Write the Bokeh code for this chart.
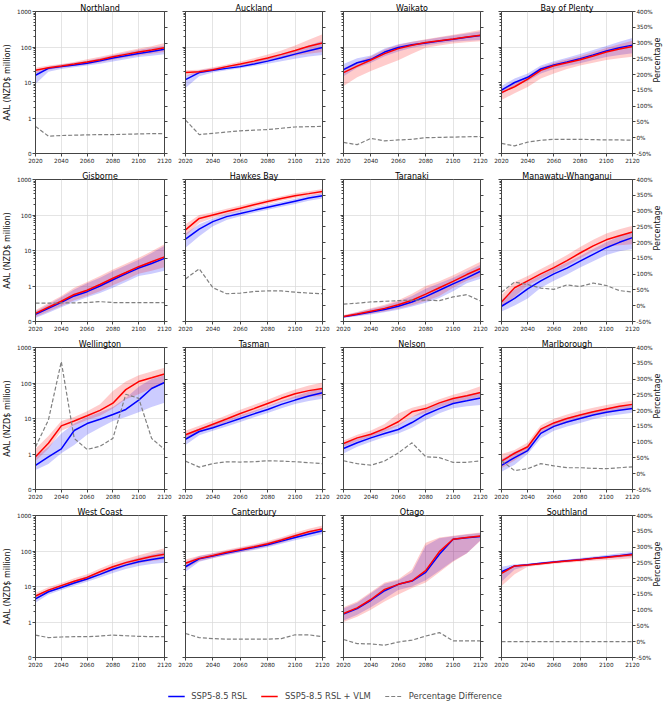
import math
from bokeh.plotting import figure
from bokeh.models import (Range1d, LinearAxis, FixedTicker, PrintfTickFormatter,
                          Legend, LegendItem)
from bokeh.layouts import column, row
from bokeh.embed import file_html
from bokeh.resources import INLINE

YEARS = [2020, 2030, 2040, 2050, 2060, 2070, 2080, 2090, 2100, 2110, 2120]
X_TICKS = [2020, 2040, 2060, 2080, 2100, 2120]
Y_TICKS = [0, 1, 10, 100, 1000]
PCT_TICKS = [-50, 0, 50, 100, 150, 200, 250, 300, 350, 400]

REGIONS = ["Northland", "Auckland", "Waikato", "Bay of Plenty",
           "Gisborne", "Hawkes Bay", "Taranaki", "Manawatu-Whanganui",
           "Wellington", "Tasman", "Nelson", "Marlborough",
           "West Coast", "Canterbury", "Otago", "Southland"]

# ---- AAL (NZD$ million): median lines and uncertainty bands, % difference ----
NORTHLAND_RSL = [16, 25, 28, 31, 35, 41, 49, 57, 66, 75, 86]
NORTHLAND_RSL_LO = [9, 20, 24, 27, 30, 34, 39, 45, 52, 57, 62]
NORTHLAND_RSL_HI = [20, 28, 32, 36, 41, 49, 59, 70, 83, 96, 110]
NORTHLAND_VLM = [22, 26, 29, 33, 38, 44, 53, 62, 72, 82, 95]
NORTHLAND_VLM_LO = [18, 23, 26, 29, 32, 37, 44, 51, 58, 65, 72]
NORTHLAND_VLM_HI = [26, 30, 33, 38, 45, 53, 64, 76, 90, 105, 130]
NORTHLAND_PCT = [36, 5, 7, 8, 9, 10, 10, 11, 12, 13, 13]

AUCKLAND_RSL = [12, 19, 22, 25, 28, 33, 40, 50, 63, 78, 97]
AUCKLAND_RSL_LO = [7, 15, 19, 22, 25, 29, 34, 40, 47, 54, 60]
AUCKLAND_RSL_HI = [15, 22, 25, 29, 33, 39, 48, 62, 80, 110, 150]
AUCKLAND_VLM = [19, 20, 23, 28, 33, 40, 49, 62, 80, 105, 130]
AUCKLAND_VLM_LO = [15, 18, 21, 25, 29, 34, 40, 48, 57, 65, 72]
AUCKLAND_VLM_HI = [22, 23, 27, 32, 39, 48, 61, 80, 110, 160, 230]
AUCKLAND_PCT = [56, 10, 14, 18, 22, 24, 26, 30, 34, 35, 36]

WAIKATO_RSL = [23, 36, 45, 72, 97, 115, 130, 148, 165, 188, 212]
WAIKATO_RSL_LO = [15, 26, 36, 55, 75, 95, 110, 125, 140, 150, 158]
WAIKATO_RSL_HI = [33, 48, 58, 90, 120, 140, 160, 185, 210, 240, 275]
WAIKATO_VLM = [19, 29, 43, 65, 90, 112, 133, 150, 168, 190, 215]
WAIKATO_VLM_LO = [8, 14, 21, 30, 42, 65, 95, 110, 125, 135, 145]
WAIKATO_VLM_HI = [25, 38, 55, 85, 115, 140, 165, 190, 220, 255, 300]
WAIKATO_PCT = [-15, -22, -2, -10, -7, -5, 0, 1, 2, 3, 4]

BAYOFPLENTY_RSL = [6.1, 10, 14, 24, 31, 38, 47, 60, 77, 95, 113]
BAYOFPLENTY_RSL_LO = [4.7, 8, 11, 18, 24, 29, 35, 43, 52, 60, 67]
BAYOFPLENTY_RSL_HI = [8, 13, 18, 30, 40, 50, 63, 82, 107, 140, 178]
BAYOFPLENTY_VLM = [5.2, 7.6, 12.4, 22, 29.5, 36, 44, 56, 72, 88, 103]
BAYOFPLENTY_VLM_LO = [3.2, 5, 7.5, 13, 18, 24, 30, 36, 43, 48, 53]
BAYOFPLENTY_VLM_HI = [6.5, 10, 15, 27, 36, 45, 56, 72, 93, 120, 150]
BAYOFPLENTY_PCT = [-18, -26, -14, -8, -5, -5, -5, -6, -7, -7, -8]

GISBORNE_RSL = [0.2, 0.37, 0.54, 0.72, 0.84, 1.0, 1.5, 2.2, 3.2, 4.3, 6.0]
GISBORNE_RSL_LO = [0.1, 0.25, 0.4, 0.55, 0.68, 0.8, 0.95, 1.3, 1.9, 2.2, 2.7]
GISBORNE_RSL_HI = [0.28, 0.48, 0.68, 0.9, 1.2, 1.7, 2.6, 3.8, 5.5, 8.5, 13.5]
GISBORNE_VLM = [0.23, 0.40, 0.57, 0.76, 0.88, 1.1, 1.65, 2.4, 3.5, 4.8, 6.6]
GISBORNE_VLM_LO = [0.13, 0.28, 0.44, 0.6, 0.72, 0.85, 1.05, 1.5, 2.2, 2.7, 3.4]
GISBORNE_VLM_HI = [0.32, 0.52, 0.72, 0.95, 1.3, 1.9, 2.9, 4.2, 6.2, 9.5, 15]
GISBORNE_PCT = [8, 8, 9, 9, 10, 13, 10, 10, 10, 10, 10]

HAWKESBAY_RSL = [21, 40, 65, 90, 110, 135, 165, 200, 245, 300, 350]
HAWKESBAY_RSL_LO = [12, 25, 48, 72, 92, 115, 140, 170, 205, 250, 290]
HAWKESBAY_RSL_HI = [30, 55, 80, 110, 135, 160, 195, 235, 285, 350, 410]
HAWKESBAY_VLM = [38, 80, 100, 125, 155, 195, 240, 290, 350, 400, 460]
HAWKESBAY_VLM_LO = [25, 60, 82, 105, 130, 165, 205, 250, 300, 345, 390]
HAWKESBAY_VLM_HI = [55, 100, 120, 150, 185, 230, 280, 340, 410, 470, 540]
HAWKESBAY_PCT = [85, 117, 57, 38, 40, 45, 47, 47, 43, 40, 38]

TARANAKI_RSL = [0.13, 0.2, 0.27, 0.34, 0.43, 0.55, 0.7, 0.88, 1.15, 1.7, 2.6]
TARANAKI_RSL_LO = [0.1, 0.15, 0.2, 0.26, 0.33, 0.42, 0.53, 0.66, 0.85, 1.2, 1.6]
TARANAKI_RSL_HI = [0.17, 0.26, 0.35, 0.44, 0.56, 0.72, 0.92, 1.2, 1.7, 2.6, 4.0]
TARANAKI_VLM = [0.14, 0.21, 0.29, 0.37, 0.47, 0.6, 0.77, 0.95, 1.35, 2.1, 3.1]
TARANAKI_VLM_LO = [0.11, 0.16, 0.22, 0.28, 0.36, 0.46, 0.58, 0.72, 0.95, 1.4, 1.9]
TARANAKI_VLM_HI = [0.18, 0.27, 0.37, 0.47, 0.6, 0.78, 1.0, 1.35, 2.0, 3.1, 4.8]
TARANAKI_PCT = [5, 8, 12, 14, 16, 18, 18, 16, 28, 35, 15]

MANAWATU_RSL = [0.43, 0.65, 0.92, 1.4, 2.2, 3.2, 5.0, 7.8, 12, 17, 23]
MANAWATU_RSL_LO = [0.28, 0.45, 0.65, 0.95, 1.4, 2.1, 3.3, 5, 7.5, 9.5, 11]
MANAWATU_RSL_HI = [0.6, 0.9, 1.3, 2.0, 3.1, 4.6, 7, 11, 17, 25, 35]
MANAWATU_VLM = [0.55, 0.95, 1.4, 2.2, 3.3, 5.2, 8.5, 13.5, 20, 26, 33]
MANAWATU_VLM_LO = [0.4, 0.7, 1.05, 1.6, 2.4, 3.7, 6, 9.5, 13, 14, 15]
MANAWATU_VLM_HI = [0.75, 1.3, 1.9, 3.0, 4.7, 7.5, 12.5, 20, 30, 40, 50]
MANAWATU_PCT = [43, 75, 67, 56, 52, 66, 61, 72, 64, 48, 43]

WELLINGTON_RSL = [0.68, 0.92, 1.4, 4.6, 7.2, 9.5, 13, 18, 33, 70, 103]
WELLINGTON_RSL_LO = [0.55, 0.72, 1.05, 1.8, 3.5, 5.5, 8.5, 11, 15, 21, 28]
WELLINGTON_RSL_HI = [0.92, 1.6, 3.8, 7.2, 11, 15, 21, 38, 78, 130, 165]
WELLINGTON_VLM = [0.92, 2.0, 6.2, 8.5, 12, 17, 27, 65, 110, 140, 180]
WELLINGTON_VLM_LO = [0.8, 1.4, 4.5, 6.5, 9, 12, 19, 35, 48, 70, 98]
WELLINGTON_VLM_HI = [1.4, 3.2, 8.5, 11, 16, 25, 60, 110, 165, 210, 270]
WELLINGTON_PCT = [85, 170, 355, 112, 77, 87, 112, 252, 239, 112, 77]

TASMAN_RSL = [2.6, 4.3, 5.5, 7.4, 10, 13.5, 18, 25, 33, 43, 53]
TASMAN_RSL_LO = [1.8, 3.4, 4.5, 6.0, 8.0, 10.8, 14.3, 19.5, 25.5, 31, 36]
TASMAN_RSL_HI = [3.6, 5.3, 6.8, 9.0, 12.3, 16.5, 22, 31, 42, 57, 75]
TASMAN_VLM = [3.5, 4.9, 6.9, 9.7, 13.8, 19, 26.5, 37, 50, 61, 70]
TASMAN_VLM_LO = [2.8, 4.0, 5.6, 7.8, 11, 15, 21, 29, 38, 41, 43]
TASMAN_VLM_HI = [4.5, 6.2, 8.7, 12.3, 17.5, 24.5, 34, 48, 66, 85, 103]
TASMAN_PCT = [40, 21, 32, 38, 37, 38, 41, 40, 38, 35, 32]

NELSON_RSL = [1.43, 2.07, 2.85, 3.8, 4.9, 7.7, 13, 19, 26.5, 31.5, 38]
NELSON_RSL_LO = [1.03, 1.6, 2.2, 3.0, 3.8, 5.5, 9, 14, 19.5, 22, 24]
NELSON_RSL_HI = [2.0, 2.7, 3.7, 5.0, 6.8, 11, 18, 26, 36, 45, 56]
NELSON_VLM = [1.98, 2.85, 3.6, 5.2, 8.1, 15.4, 19, 27.6, 36.5, 43.6, 54]
NELSON_VLM_LO = [1.6, 2.3, 3.0, 4.2, 6.2, 11, 14.5, 21, 28, 34, 41]
NELSON_VLM_HI = [2.4, 3.5, 4.6, 7.0, 13.8, 20, 25, 35, 47, 60, 81]
NELSON_PCT = [41, 32, 27, 40, 66, 98, 54, 51, 36, 36, 41]

MARLBOROUGH_RSL = [0.68, 0.9, 1.25, 3.8, 6.0, 8.0, 10, 12.5, 15, 17, 19]
MARLBOROUGH_RSL_LO = [0.5, 0.7, 1.0, 2.8, 4.5, 6.0, 7.5, 9.5, 11.5, 13, 14.5]
MARLBOROUGH_RSL_HI = [0.85, 1.15, 1.6, 5.0, 8.0, 10.5, 13, 16, 19.5, 22, 25]
MARLBOROUGH_VLM = [0.8, 1.05, 1.6, 5.0, 7.5, 10, 12.5, 15.5, 18.5, 22, 25]
MARLBOROUGH_VLM_LO = [0.6, 0.82, 1.2, 3.7, 5.7, 7.6, 9.5, 12, 14, 17, 19]
MARLBOROUGH_VLM_HI = [1.0, 1.3, 2.1, 6.5, 9.8, 13, 16.5, 20, 24, 28, 32]
MARLBOROUGH_PCT = [41, 10, 16, 32, 25, 19, 19, 17, 16, 19, 22]

WESTCOAST_RSL = [4.5, 7.1, 9.4, 12.5, 16.3, 22, 30.5, 40, 50, 58, 66]
WESTCOAST_RSL_LO = [3.5, 6.0, 8.0, 10.5, 13.5, 18, 24, 31, 38, 43, 47]
WESTCOAST_RSL_HI = [5.6, 8.4, 11, 14.8, 19.5, 27, 38, 51, 65, 80, 95]
WESTCOAST_VLM = [5.4, 7.9, 10.6, 14, 18, 26, 36, 47, 58, 70, 81]
WESTCOAST_VLM_LO = [4.3, 6.7, 9.0, 11.8, 15, 21, 28, 37, 45, 52, 58]
WESTCOAST_VLM_HI = [6.6, 9.5, 12.6, 17, 22, 32, 45, 60, 76, 95, 120]
WESTCOAST_PCT = [21, 13, 15, 16, 16, 18, 21, 19, 17, 16, 16]

CANTERBURY_RSL = [36, 60, 72, 88, 105, 125, 150, 190, 240, 300, 370]
CANTERBURY_RSL_LO = [26, 50, 62, 76, 90, 107, 128, 160, 200, 245, 300]
CANTERBURY_RSL_HI = [48, 72, 85, 102, 122, 146, 176, 225, 290, 365, 450]
CANTERBURY_VLM = [45, 62, 75, 92, 110, 132, 160, 205, 270, 350, 420]
CANTERBURY_VLM_LO = [32, 52, 64, 78, 94, 112, 135, 172, 225, 290, 345]
CANTERBURY_VLM_HI = [58, 74, 88, 108, 130, 155, 190, 245, 325, 425, 520]
CANTERBURY_PCT = [26, 13, 10, 8, 8, 8, 8, 10, 22, 22, 16]

OTAGO_RSL = [1.67, 2.4, 4.1, 7.6, 11.5, 14.2, 25, 81, 214, 235, 256]
OTAGO_RSL_LO = [1.1, 1.6, 2.6, 4.5, 8, 10, 15, 28, 52, 87, 200]
OTAGO_RSL_HI = [2.4, 3.5, 6.5, 12, 15, 25, 140, 230, 260, 290, 320]
OTAGO_VLM = [1.74, 2.5, 4.3, 8.3, 11.5, 14.5, 28, 96, 214, 240, 265]
OTAGO_VLM_LO = [1.0, 1.4, 2.2, 3.8, 6, 9, 13, 25, 50, 85, 195]
OTAGO_VLM_HI = [2.6, 3.8, 7, 13, 16, 30, 170, 240, 270, 300, 330]
OTAGO_PCT = [7, -6, -7, -11, -1, 5, 18, 29, 3, 3, 3]

SOUTHLAND_RSL = [26, 38, 41, 45, 49, 53, 57, 62, 68, 74, 82]
SOUTHLAND_RSL_LO = [13.6, 30, 38, 42, 46, 50, 54, 58, 62, 66, 70]
SOUTHLAND_RSL_HI = [36, 42, 44, 48, 53, 58, 63, 70, 77, 86, 96]
SOUTHLAND_VLM = [23.5, 38, 40.5, 44, 48, 52, 56, 61, 66, 72, 78]
SOUTHLAND_VLM_LO = [10.3, 22, 36, 40, 44, 47, 50, 53, 56, 59, 62]
SOUTHLAND_VLM_HI = [26, 40, 43, 47, 51, 56, 61, 66, 72, 79, 86]
SOUTHLAND_PCT = [0, 0, 0, 0, 0, 0, 0, 0, 0, 0, 0]

DATA = {
    "Northland": (NORTHLAND_RSL, NORTHLAND_RSL_LO, NORTHLAND_RSL_HI, NORTHLAND_VLM, NORTHLAND_VLM_LO, NORTHLAND_VLM_HI, NORTHLAND_PCT),
    "Auckland": (AUCKLAND_RSL, AUCKLAND_RSL_LO, AUCKLAND_RSL_HI, AUCKLAND_VLM, AUCKLAND_VLM_LO, AUCKLAND_VLM_HI, AUCKLAND_PCT),
    "Waikato": (WAIKATO_RSL, WAIKATO_RSL_LO, WAIKATO_RSL_HI, WAIKATO_VLM, WAIKATO_VLM_LO, WAIKATO_VLM_HI, WAIKATO_PCT),
    "Bay of Plenty": (BAYOFPLENTY_RSL, BAYOFPLENTY_RSL_LO, BAYOFPLENTY_RSL_HI, BAYOFPLENTY_VLM, BAYOFPLENTY_VLM_LO, BAYOFPLENTY_VLM_HI, BAYOFPLENTY_PCT),
    "Gisborne": (GISBORNE_RSL, GISBORNE_RSL_LO, GISBORNE_RSL_HI, GISBORNE_VLM, GISBORNE_VLM_LO, GISBORNE_VLM_HI, GISBORNE_PCT),
    "Hawkes Bay": (HAWKESBAY_RSL, HAWKESBAY_RSL_LO, HAWKESBAY_RSL_HI, HAWKESBAY_VLM, HAWKESBAY_VLM_LO, HAWKESBAY_VLM_HI, HAWKESBAY_PCT),
    "Taranaki": (TARANAKI_RSL, TARANAKI_RSL_LO, TARANAKI_RSL_HI, TARANAKI_VLM, TARANAKI_VLM_LO, TARANAKI_VLM_HI, TARANAKI_PCT),
    "Manawatu-Whanganui": (MANAWATU_RSL, MANAWATU_RSL_LO, MANAWATU_RSL_HI, MANAWATU_VLM, MANAWATU_VLM_LO, MANAWATU_VLM_HI, MANAWATU_PCT),
    "Wellington": (WELLINGTON_RSL, WELLINGTON_RSL_LO, WELLINGTON_RSL_HI, WELLINGTON_VLM, WELLINGTON_VLM_LO, WELLINGTON_VLM_HI, WELLINGTON_PCT),
    "Tasman": (TASMAN_RSL, TASMAN_RSL_LO, TASMAN_RSL_HI, TASMAN_VLM, TASMAN_VLM_LO, TASMAN_VLM_HI, TASMAN_PCT),
    "Nelson": (NELSON_RSL, NELSON_RSL_LO, NELSON_RSL_HI, NELSON_VLM, NELSON_VLM_LO, NELSON_VLM_HI, NELSON_PCT),
    "Marlborough": (MARLBOROUGH_RSL, MARLBOROUGH_RSL_LO, MARLBOROUGH_RSL_HI, MARLBOROUGH_VLM, MARLBOROUGH_VLM_LO, MARLBOROUGH_VLM_HI, MARLBOROUGH_PCT),
    "West Coast": (WESTCOAST_RSL, WESTCOAST_RSL_LO, WESTCOAST_RSL_HI, WESTCOAST_VLM, WESTCOAST_VLM_LO, WESTCOAST_VLM_HI, WESTCOAST_PCT),
    "Canterbury": (CANTERBURY_RSL, CANTERBURY_RSL_LO, CANTERBURY_RSL_HI, CANTERBURY_VLM, CANTERBURY_VLM_LO, CANTERBURY_VLM_HI, CANTERBURY_PCT),
    "Otago": (OTAGO_RSL, OTAGO_RSL_LO, OTAGO_RSL_HI, OTAGO_VLM, OTAGO_VLM_LO, OTAGO_VLM_HI, OTAGO_PCT),
    "Southland": (SOUTHLAND_RSL, SOUTHLAND_RSL_LO, SOUTHLAND_RSL_HI, SOUTHLAND_VLM, SOUTHLAND_VLM_LO, SOUTHLAND_VLM_HI, SOUTHLAND_PCT),
}

FONT = "DejaVu Sans"
BLUE = "#0000ff"
RED = "#ff0000"
GRAY = "#808080"
SPINE = "#444444"


def symlog(vals):
    """Symmetric-log mapping (linear below 1, log10 above) used by the y axis."""
    return [v if v <= 1 else 1.0 + math.log10(v) for v in vals]


Y_POS = symlog(Y_TICKS)
Y_MINOR = symlog([k * 10 ** n for n in range(0, 3) for k in range(2, 10)])

FRAME_W, FRAME_H = 137, 142


def make_panel(name, col, rowi):
    left = 27 if col == 0 else 11
    right = 31 if col == 3 else 10
    p = figure(width=left + FRAME_W + right, frame_height=FRAME_H,
               x_range=Range1d(2020, 2120), y_range=Range1d(0, 4),
               output_backend="svg", toolbar_location=None,
               min_border_left=left, min_border_right=right,
               min_border_top=11, min_border_bottom=15,
               title=name)
    p.extra_y_ranges = {"pct": Range1d(-50, 400)}
    p.background_fill_color = "white"
    p.border_fill_color = "white"
    p.outline_line_color = SPINE
    p.outline_line_width = 1

    p.title.align = "center"
    p.title.text_font = FONT
    p.title.text_font_size = "8px"
    p.title.text_font_style = "normal"
    p.title.text_color = "#000000"
    p.title.standoff = -3
    p.title.offset = 0

    xa = p.xaxis[0]
    xa.ticker = FixedTicker(ticks=X_TICKS)
    ya = p.yaxis[0]
    ya.ticker = FixedTicker(ticks=Y_POS, minor_ticks=Y_MINOR)
    if col == 0:
        ya.major_label_overrides = {pos: str(t) for pos, t in zip(Y_POS, Y_TICKS)}
        ya.axis_label = "AAL (NZD$ million)"
    else:
        ya.major_label_overrides = {pos: "" for pos in Y_POS}
    ra = LinearAxis(y_range_name="pct", ticker=FixedTicker(ticks=PCT_TICKS),
                    formatter=PrintfTickFormatter(format="%d%%"))
    if col == 3:
        ra.axis_label = "Percentage"
        ra.axis_label_orientation = math.pi / 2
    else:
        ra.major_label_overrides = {t: "" for t in PCT_TICKS}
    p.add_layout(ra, "right")

    for ax in (xa, ya, ra):
        ax.axis_line_color = SPINE
        ax.major_tick_line_color = SPINE
        ax.minor_tick_line_color = SPINE
        ax.major_tick_out = 3
        ax.major_tick_in = 0
        ax.minor_tick_out = 2
        ax.minor_tick_in = 0
        ax.major_label_standoff = 1
        ax.axis_label_standoff = 2
        ax.major_label_text_font = FONT
        ax.major_label_text_font_size = "5.7px"
        ax.major_label_text_color = "#222222"
        ax.axis_label_text_font = FONT
        ax.axis_label_text_font_size = "8px"
        ax.axis_label_text_font_style = "normal"
        ax.axis_label_text_color = "#111111"
    xa.minor_tick_line_color = None
    ra.minor_tick_line_color = None

    p.xgrid.ticker = FixedTicker(ticks=X_TICKS)
    p.ygrid.ticker = FixedTicker(ticks=Y_POS)
    for g in (p.xgrid, p.ygrid):
        g.grid_line_color = "#d9d9d9"
        g.grid_line_width = 0.7

    rsl, rsl_lo, rsl_hi, vlm, vlm_lo, vlm_hi, pct = DATA[name]
    p.varea(x=YEARS, y1=symlog(rsl_lo), y2=symlog(rsl_hi),
            fill_color=BLUE, fill_alpha=0.2)
    p.varea(x=YEARS, y1=symlog(vlm_lo), y2=symlog(vlm_hi),
            fill_color=RED, fill_alpha=0.2)
    p.line(YEARS, symlog(rsl), line_color=BLUE, line_width=1.5)
    p.line(YEARS, symlog(vlm), line_color=RED, line_width=1.5)
    p.line(YEARS, pct, y_range_name="pct", line_color=GRAY,
           line_width=1.2, line_dash="4 2")
    return p


rows = []
for r in range(4):
    rows.append(row(*[make_panel(REGIONS[r * 4 + c], c, r) for c in range(4)]))

lf = figure(width=669, height=29, x_range=Range1d(0, 1), y_range=Range1d(0, 1),
            output_backend="svg", toolbar_location=None, min_border=0)
lf.axis.visible = False
lf.grid.visible = False
lf.outline_line_color = None
lf.background_fill_color = "white"
lf.border_fill_color = "white"
# off-screen points: only the legend glyphs are visible
l1 = lf.line([-5, -4], [-5, -4], line_color=BLUE, line_width=1.5)
l2 = lf.line([-5, -4], [-5, -4], line_color=RED, line_width=1.5)
l3 = lf.line([-5, -4], [-5, -4], line_color=GRAY, line_width=1.2, line_dash="4 2")
legend = Legend(items=[LegendItem(label="SSP5-8.5 RSL", renderers=[l1]),
                       LegendItem(label="SSP5-8.5 RSL + VLM", renderers=[l2]),
                       LegendItem(label="Percentage Difference", renderers=[l3])],
                orientation="horizontal", location="bottom_center",
                border_line_color=None, background_fill_alpha=0,
                label_text_font=FONT, label_text_font_size="8.4px",
                glyph_width=17, glyph_height=10, label_height=10,
                label_standoff=7, spacing=14, padding=0, margin=0)
lf.add_layout(legend, "center")

layout = column(*rows, lf)
open("out.html", "w").write(file_html(layout, INLINE))
